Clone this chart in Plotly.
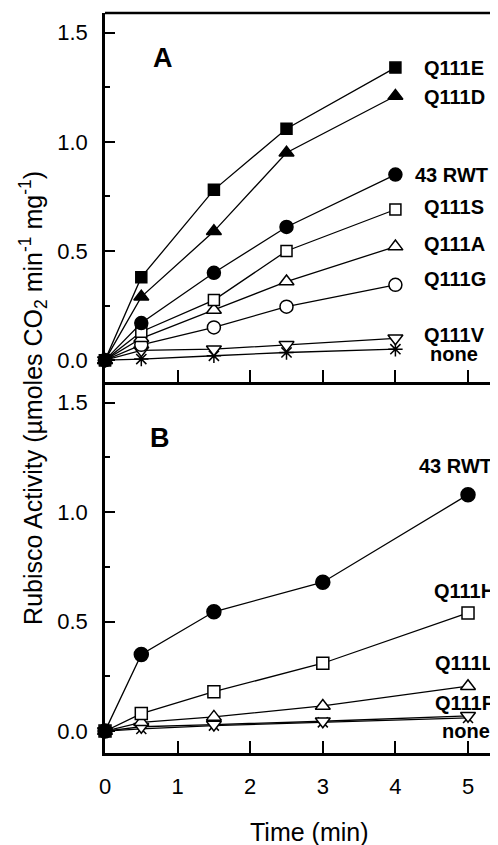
import plotly.graph_objects as go

# ---------------- data ----------------
a_time = [0, 0.5, 1.5, 2.5, 4]
a_names = ["Q111E", "Q111D", "43 RWT", "Q111S", "Q111A", "Q111G", "Q111V", "none"]
a_Q111E = [0, 0.38, 0.78, 1.06, 1.34]
a_Q111D = [0, 0.29, 0.59, 0.95, 1.21]
a_RWT = [0, 0.17, 0.40, 0.61, 0.85]
a_Q111S = [0, 0.13, 0.275, 0.50, 0.69]
a_Q111A = [0, 0.10, 0.23, 0.36, 0.52]
a_Q111G = [0, 0.07, 0.15, 0.245, 0.345]
a_Q111V = [0, 0.045, 0.05, 0.07, 0.10]
a_none = [0, 0.005, 0.02, 0.035, 0.05]

b_time = [0, 0.5, 1.5, 3, 5]
b_names = ["43 RWT", "Q111H", "Q111L", "Q111P", "none"]
b_RWT = [0, 0.35, 0.545, 0.68, 1.08]
b_Q111H = [0, 0.08, 0.18, 0.31, 0.54]
b_Q111L = [0, 0.04, 0.065, 0.115, 0.205]
b_Q111P = [0, 0.02, 0.03, 0.045, 0.07]
b_none = [0, 0.01, 0.025, 0.04, 0.06]

y_ticks = [0.0, 0.5, 1.0, 1.5]
y_ticklabels = ["0.0", "0.5", "1.0", "1.5"]
x_ticks = [0, 1, 2, 3, 4, 5]

# label placement (layout, not data)
a_label_x = [4.37, 4.37, 4.24, 4.37, 4.37, 4.37, 4.37, 4.45]
a_label_y = [1.34, 1.205, 0.85, 0.70, 0.53, 0.37, 0.115, 0.03]
b_label_x = [4.30, 4.50, 4.52, 4.52, 4.61]
b_label_y = [1.21, 0.64, 0.31, 0.13, 0.0]

FONT = "Arial, Liberation Sans, Helvetica, sans-serif"

a_series = [a_Q111E, a_Q111D, a_RWT, a_Q111S, a_Q111A, a_Q111G, a_Q111V, a_none]
a_styles = [
    ("square", "black", 11),
    ("triangle-up", "black", 13),
    ("circle", "black", 13),
    ("square", "white", 11),
    ("triangle-up", "white", 13),
    ("circle", "white", 13),
    ("triangle-down", "white", 13),
    ("asterisk-open", "black", 12),
]
b_series = [b_RWT, b_Q111H, b_Q111L, b_Q111P, b_none]
b_styles = [
    ("circle", "black", 14),
    ("square", "white", 12),
    ("triangle-up", "white", 13),
    ("triangle-down", "white", 13),
    ("x-thin-open", "black", 10),
]

fig = go.Figure()

def add(xs, ys, name, style, xa, ya):
    sym, fill, size = style
    fig.add_trace(go.Scatter(
        x=xs, y=ys, name=name, mode="lines+markers",
        line=dict(color="black", width=1.3),
        marker=dict(symbol=sym, color=fill, size=size,
                    line=dict(color="black", width=1.5)),
        xaxis=xa, yaxis=ya, showlegend=False, cliponaxis=False,
    ))

for name, ys, st in reversed(list(zip(a_names, a_series, a_styles))):
    add(a_time, ys, name, st, "x", "y")
for name, ys, st in reversed(list(zip(b_names, b_series, b_styles))):
    add(b_time, ys, name, st, "x2", "y2")

annotations = []
for name, lx, ly in zip(a_names, a_label_x, a_label_y):
    annotations.append(dict(x=lx, y=ly, xref="x", yref="y", text=f"<b>{name}</b>",
                            showarrow=False, xanchor="left", yanchor="middle",
                            font=dict(family=FONT, size=20, color="black")))
for name, lx, ly in zip(b_names, b_label_x, b_label_y):
    annotations.append(dict(x=lx, y=ly, xref="x2", yref="y2", text=f"<b>{name}</b>",
                            showarrow=False, xanchor="left", yanchor="middle",
                            font=dict(family=FONT, size=20, color="black")))
annotations.append(dict(x=0.80, y=1.385, xref="x", yref="y", text="<b>A</b>",
                        showarrow=False, font=dict(family=FONT, size=27, color="black")))
annotations.append(dict(x=0.76, y=1.34, xref="x2", yref="y2", text="<b>B</b>",
                        showarrow=False, font=dict(family=FONT, size=27, color="black")))
annotations.append(dict(x=0.5216, y=-0.1068, xref="paper", yref="paper", text="Time (min)",
                        xanchor="center", yanchor="middle",
                        showarrow=False, font=dict(family=FONT, size=25, color="black")))
annotations.append(dict(x=-0.183, y=0.48, xref="paper", yref="paper",
                        text="Rubisco Activity (\u00b5moles CO<sub>2</sub> min<sup>-1</sup> mg<sup>-1</sup>)",
                        textangle=-90, showarrow=False, xanchor="center", yanchor="middle",
                        font=dict(family=FONT, size=25, color="black")))

xcommon = dict(range=[0, 5.413], showline=True, linecolor="black", linewidth=2.5,
               ticks="inside", ticklen=12, tickwidth=2, tickcolor="black",
               tickvals=x_ticks, showgrid=False, zeroline=False, automargin=False,
               tickfont=dict(family=FONT, size=22, color="black"))
ycommon = dict(range=[-0.1, 1.59], showline=True, linecolor="black", linewidth=2.5,
               ticks="inside", ticklen=10, tickwidth=2, tickcolor="black",
               tickvals=y_ticks, ticktext=y_ticklabels, showgrid=False, zeroline=False,
               automargin=False,
               tickfont=dict(family=FONT, size=22, color="black"),
               ticklabelstandoff=10,
               minor=dict(ticks="inside", ticklen=5, tickwidth=2, tickcolor="black",
                          tickvals=[0.25, 0.75, 1.25]))

# the page body adds an 8px offset, so the figure is sized 8px smaller
fig.update_layout(
    width=490, height=837,
    margin=dict(l=97, r=0, t=5, b=92),
    paper_bgcolor="white", plot_bgcolor="white",
    xaxis=dict(xcommon, anchor="y", showticklabels=False),
    yaxis=dict(ycommon, anchor="x", domain=[0.5014, 1]),
    xaxis2=dict(xcommon, anchor="y2", showticklabels=True, ticklabelstandoff=12),
    yaxis2=dict(ycommon, anchor="x2", domain=[0, 0.5]),
    annotations=annotations,
    shapes=[dict(type="line", xref="paper", yref="paper", x0=0, x1=1, y0=1, y1=1,
                 line=dict(color="black", width=2.5))],
)

fig.write_html("out.html")
